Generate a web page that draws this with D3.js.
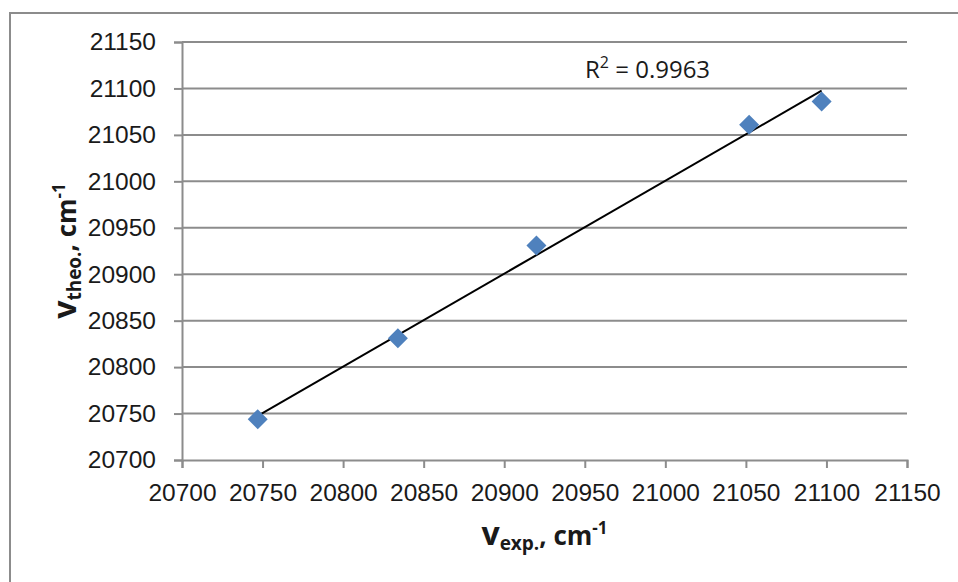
<!DOCTYPE html>
<html>
<head>
  <meta charset="utf-8">
  <script src="https://d3js.org/d3.v7.min.js"></script>
</head>
<style>
  body { margin: 0; background: #fff; }
  svg { display: block; font-family: "Open Sans", sans-serif; }
  .grid line { stroke: #8c8c8c; stroke-width: 2px; }
  .axis path, .axis line { stroke: #8c8c8c; stroke-width: 2px; }
  .axis text { font-size: 24.5px; fill: #1a1a1a; }
  .title { font-size: 26px; font-weight: bold; fill: #1a1a1a; }
</style>
<body>
  <svg id="chart" width="958" height="582"></svg>
  <script>
    // measured points (experimental vs theoretical wavenumber)
    const expValues = [20747, 20834, 20920, 21052, 21097];
    const theoValues = [20744, 20831, 20931, 21061, 21086];
    const xTicks = [20700, 20750, 20800, 20850, 20900, 20950, 21000, 21050, 21100, 21150];
    const yTicks = [20700, 20750, 20800, 20850, 20900, 20950, 21000, 21050, 21100, 21150];
    const rSquaredLabel = "0.9963";

    const svg = d3.select("#chart");
    const plotLeft = 182, plotRight = 907, plotTop = 42, plotBottom = 460;

    // frame around the chart area
    svg.append("path")
      .attr("d", "M10,600 L10,13 L958,13")
      .attr("fill", "none")
      .attr("stroke", "#8c8c8c")
      .attr("stroke-width", 2);

    const x = d3.scaleLinear().domain([20700, 21150]).range([plotLeft, plotRight]);
    const y = d3.scaleLinear().domain([20700, 21150]).range([plotBottom, plotTop]);

    // horizontal gridlines
    svg.append("g").attr("class", "grid")
      .selectAll("line").data(yTicks.slice(1)).join("line")
      .attr("x1", plotLeft).attr("x2", plotRight)
      .attr("y1", d => y(d)).attr("y2", d => y(d));

    const xAxis = svg.append("g").attr("class", "axis")
      .attr("transform", `translate(0,${plotBottom})`)
      .call(d3.axisBottom(x).tickValues(xTicks).tickSizeOuter(0).tickSize(8).tickPadding(12).tickFormat(d3.format("d")));
    xAxis.selectAll("text").attr("dy", "0.85em");

    svg.append("g").attr("class", "axis")
      .attr("transform", `translate(${plotLeft},0)`)
      .call(d3.axisLeft(y).tickValues(yTicks).tickSizeOuter(0).tickSize(8).tickPadding(18).tickFormat(d3.format("d")));

    // linear trendline (least squares over the points)
    const n = expValues.length;
    const mx = d3.mean(expValues), my = d3.mean(theoValues);
    let sxy = 0, sxx = 0;
    for (let i = 0; i < n; i++) {
      sxy += (expValues[i] - mx) * (theoValues[i] - my);
      sxx += (expValues[i] - mx) ** 2;
    }
    const slope = sxy / sxx, icpt = my - slope * mx;
    const x0 = d3.min(expValues), x1 = d3.max(expValues);
    svg.append("line")
      .attr("x1", x(x0)).attr("y1", y(slope * x0 + icpt))
      .attr("x2", x(x1)).attr("y2", y(slope * x1 + icpt))
      .attr("stroke", "#000").attr("stroke-width", 2);

    // diamond markers
    svg.append("g").selectAll("path").data(expValues).join("path")
      .attr("d", "M0,-10 L10,0 L0,10 L-10,0 Z")
      .attr("transform", (d, i) => `translate(${x(d)},${y(theoValues[i])})`)
      .attr("fill", "#4f81bd");

    // R² label
    const rl = svg.append("text").attr("x", 585).attr("y", 78)
      .attr("font-size", 24).attr("fill", "#1a1a1a");
    rl.append("tspan").text("R");
    rl.append("tspan").attr("font-size", 16).attr("dy", -10).text("2");
    rl.append("tspan").attr("dy", 10).text(" = " + rSquaredLabel);

    // axis titles
    const xt = svg.append("text").attr("class", "title")
      .attr("x", (plotLeft + plotRight) / 2).attr("y", 545).attr("text-anchor", "middle");
    xt.append("tspan").attr("font-size", 32).text("v");
    xt.append("tspan").attr("font-size", 19).attr("dy", 5).text("exp.");
    xt.append("tspan").attr("dy", -5).text(", cm");
    xt.append("tspan").attr("font-size", 17).attr("dy", -11).text("-1");

    const yt = svg.append("text").attr("class", "title")
      .attr("transform", `translate(76,${(plotTop + plotBottom) / 2}) rotate(-90)`)
      .attr("text-anchor", "middle");
    yt.append("tspan").attr("font-size", 32).text("v");
    yt.append("tspan").attr("font-size", 19).attr("dy", 5).text("theo.");
    yt.append("tspan").attr("dy", -5).text(", cm");
    yt.append("tspan").attr("font-size", 17).attr("dy", -11).text("-1");
  </script>
</body>
</html>
